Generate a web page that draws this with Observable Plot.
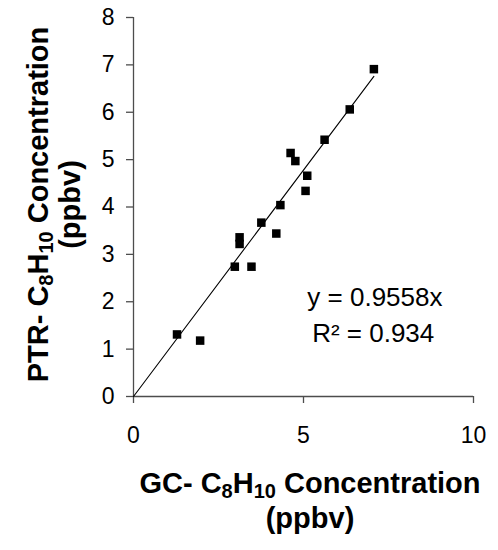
<!DOCTYPE html>
<html>
<head>
<meta charset="utf-8">
<script src="https://cdn.jsdelivr.net/npm/d3@7"></script>
<script src="https://cdn.jsdelivr.net/npm/@observablehq/plot@0.6"></script>
<style>
  body { margin: 0; background: #fff; }
</style>
</head>
<body>
<div id="chart"></div>
<script>
// GC vs PTR-MS xylene (C8H10) concentrations, ppbv
const gc  = [1.28, 1.96, 2.98, 3.47, 3.12, 3.12, 3.76, 4.20, 4.32, 4.62, 4.76, 5.11, 5.06, 5.62, 6.36, 7.07];
const ptr = [1.31, 1.18, 2.74, 2.74, 3.36, 3.22, 3.67, 3.44, 4.04, 5.14, 4.97, 4.66, 4.34, 5.42, 6.06, 6.91];

const xTicks = [0, 5, 10];
const yTicks = [0, 1, 2, 3, 4, 5, 6, 7, 8];

// Linear fit forced through the origin
const slope = 0.9558;
const rSquared = 0.934;

const FONT = "'Liberation Sans', Arial, Helvetica, sans-serif";
const AXIS_COLOR = "#4d4d4d";

const points = gc.map((x, i) => ({x, y: ptr[i]}));
const fit = [0, d3.max(gc)].map(x => ({x, y: slope * x}));

// Axis titles with subscripted chemical formula
function formula(text, prefix, subSize, shift) {
  text.append("tspan").text(prefix + "C");
  text.append("tspan").attr("font-size", subSize).attr("dy", shift).text("8");
  text.append("tspan").attr("dy", -shift).text("H");
  text.append("tspan").attr("font-size", subSize).attr("dy", shift).text("10");
  text.append("tspan").attr("dy", -shift).text(" Concentration");
}

function axisTitles(index, scales, values, dims) {
  const g = d3.create("svg:g")
    .attr("font-family", FONT)
    .attr("font-weight", "bold")
    .attr("font-size", 29)
    .attr("fill", "black")
    .attr("text-anchor", "middle");

  const cx = (dims.marginLeft + dims.width - dims.marginRight) / 2 + 7;
  const bottom = dims.height - dims.marginBottom;
  formula(g.append("text").attr("x", cx).attr("y", bottom + 97), "GC- ", 20, 5);
  g.append("text").attr("x", cx).attr("y", bottom + 132).text("(ppbv)");

  const cy = (dims.marginTop + dims.height - dims.marginBottom) / 2 - 2;
  formula(g.append("text").attr("transform", `translate(48,${cy}) rotate(-90)`), "PTR- ", 20, 5);
  g.append("text").attr("transform", `translate(80,${cy}) rotate(-90)`).text("(ppbv)");
  return g.node();
}

const chart = Plot.plot({
  width: 498,
  height: 550,
  marginLeft: 133,
  marginRight: 25,
  marginTop: 17,
  marginBottom: 154,
  style: {fontFamily: FONT, fontSize: "23px", color: "black", background: "white"},
  x: {domain: [0, 10], ticks: xTicks, label: null},
  y: {domain: [0, 8], ticks: yTicks, label: null},
  marks: [
    Plot.axisX({ticks: xTicks, tickSize: 7, tickPadding: 23, stroke: AXIS_COLOR, strokeWidth: 1.3, fill: "black", label: null}),
    Plot.axisY({ticks: yTicks, tickSize: 7, tickPadding: 12, stroke: AXIS_COLOR, strokeWidth: 1.3, fill: "black", label: null}),
    Plot.ruleY([0], {stroke: AXIS_COLOR, strokeWidth: 1.3}),
    Plot.ruleX([0], {stroke: AXIS_COLOR, strokeWidth: 1.3}),
    Plot.line(fit, {x: "x", y: "y", stroke: "black", strokeWidth: 1.1}),
    Plot.dot(points, {x: "x", y: "y", symbol: "square", r: 4.8, fill: "black", stroke: null}),
    Plot.text([`y = ${slope}x`], {x: 7.1, y: 2.09, text: d => d, fontSize: 26, fill: "black"}),
    Plot.text([`R² = ${rSquared}`], {x: 7.05, y: 1.32, text: d => d, fontSize: 26, fill: "black"}),
    axisTitles
  ]
});

document.getElementById("chart").appendChild(chart);
</script>
</body>
</html>
